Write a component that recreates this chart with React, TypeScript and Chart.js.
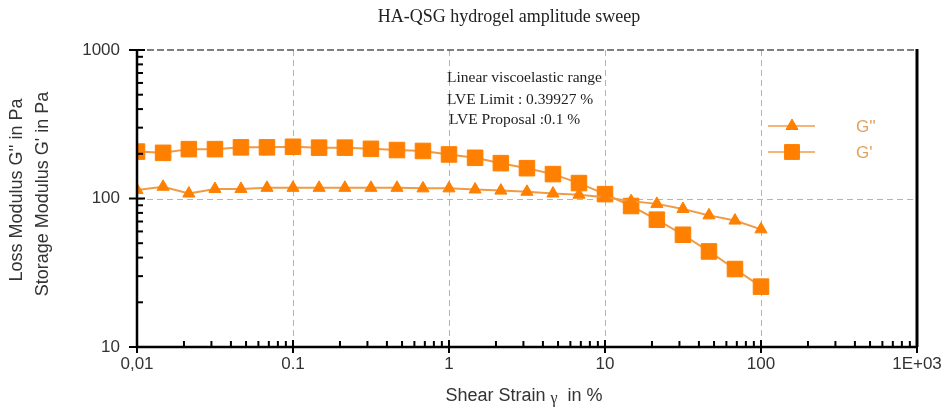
import React, { useEffect, useRef } from 'react';
import { Chart, registerables } from 'chart.js';

Chart.register(...registerables);

const strain = [0.01, 0.0147, 0.0215, 0.0316, 0.0464, 0.0681, 0.1, 0.147, 0.215, 0.316, 0.464, 0.681, 1, 1.47, 2.15, 3.16, 4.64, 6.81, 10, 14.7, 21.5, 31.6, 46.4, 68.1, 100];
const storageModulus = [207, 203, 215, 215, 221, 221, 223, 220, 220, 216, 212, 209, 198, 188, 173, 160, 146, 127, 107, 89, 72, 57, 44, 33.5, 25.5];
const lossModulus = [114, 120, 108, 116, 116, 118, 118, 118, 118, 118, 118, 117, 117, 115, 113, 111, 108, 106, 102, 96, 92, 85, 77, 71, 62];

const xTickValues = [0.01, 0.1, 1, 10, 100, 1000];
const xTickLabels = ['0,01', '0.1', '1', '10', '100', '1E+03'];
const yTickValues = [10, 100, 1000];
const yTickLabels = ['10', '100', '1000'];

const titleText = 'HA-QSG hydrogel amplitude sweep';
const annotationLines = ['Linear viscoelastic range', 'LVE Limit : 0.39927 %', 'LVE Proposal :0.1 %'];
const legendLabels = ["G''", "G'"];
const xTitleParts = ['Shear Strain ', '\u03b3', '  in %'];
const yTitles = ["Loss Modulus G'' in Pa", "Storage Modulus G' in Pa"];

const MARKER = '#ff8000';
const LINE = '#f09a45';
const SANS = '"Liberation Sans", Arial, sans-serif';
const SERIF = '"Liberation Serif", "Times New Roman", serif';

function drawMarker(ctx: CanvasRenderingContext2D, style: string, r: number, x: number, y: number) {
  ctx.beginPath();
  if (style === 'rect') {
    const s = Math.SQRT1_2 * r;
    ctx.rect(x - s, y - s, 2 * s, 2 * s);
  } else {
    let rad = 0;
    ctx.moveTo(x + Math.sin(rad) * r, y - Math.cos(rad) * r);
    rad += (2 * Math.PI) / 3;
    ctx.lineTo(x + Math.sin(rad) * r, y - Math.cos(rad) * r);
    rad += (2 * Math.PI) / 3;
    ctx.lineTo(x + Math.sin(rad) * r, y - Math.cos(rad) * r);
    ctx.closePath();
  }
  ctx.fill();
  ctx.stroke();
}

const decorPlugin = {
  id: 'decor',
  beforeDatasetsDraw(chart: any) {
    const ctx = chart.ctx;
    const xs = chart.scales.x;
    const ys = chart.scales.y;
    const { left, right, top, bottom } = chart.chartArea;
    ctx.save();
    ctx.strokeStyle = '#b5b5b5';
    ctx.lineWidth = 1;
    ctx.setLineDash([6, 4]);
    for (const v of xTickValues.slice(1, -1)) {
      const px = Math.round(xs.getPixelForValue(v)) + 0.5;
      ctx.beginPath();
      ctx.moveTo(px, top);
      ctx.lineTo(px, bottom);
      ctx.stroke();
    }
    for (const v of yTickValues.slice(1, -1)) {
      const py = Math.round(ys.getPixelForValue(v)) + 0.5;
      ctx.beginPath();
      ctx.moveTo(left, py);
      ctx.lineTo(right, py);
      ctx.stroke();
    }
    ctx.strokeStyle = '#555';
    ctx.lineWidth = 1.5;
    ctx.setLineDash([7, 3]);
    ctx.beginPath();
    ctx.moveTo(left, top);
    ctx.lineTo(right, top);
    ctx.stroke();
    ctx.restore();
  },
  afterDraw(chart: any) {
    const ctx = chart.ctx;
    const xs = chart.scales.x;
    const ys = chart.scales.y;
    const { left, right, top, bottom } = chart.chartArea;
    ctx.save();
    ctx.setLineDash([]);
    ctx.strokeStyle = '#000';
    ctx.lineWidth = 2.5;
    ctx.beginPath();
    ctx.moveTo(left, top);
    ctx.lineTo(left, bottom);
    ctx.lineTo(right, bottom);
    ctx.stroke();
    ctx.lineWidth = 3;
    ctx.beginPath();
    ctx.moveTo(right, top - 1);
    ctx.lineTo(right, bottom);
    ctx.stroke();
    ctx.lineWidth = 2;
    for (let i = 0; i < yTickValues.length; i++) {
      const d = yTickValues[i];
      const py = ys.getPixelForValue(d);
      ctx.beginPath();
      ctx.moveTo(left - 8, py);
      ctx.lineTo(left + 8, py);
      ctx.stroke();
      if (i < yTickValues.length - 1) {
        for (let m = 2; m <= 9; m++) {
          const pm = ys.getPixelForValue(d * m);
          ctx.beginPath();
          ctx.moveTo(left, pm);
          ctx.lineTo(left + 6, pm);
          ctx.stroke();
        }
      }
    }
    for (let i = 0; i < xTickValues.length; i++) {
      const d = xTickValues[i];
      const px = xs.getPixelForValue(d);
      ctx.beginPath();
      ctx.moveTo(px, bottom + 6);
      ctx.lineTo(px, bottom - 7);
      ctx.stroke();
      if (i < xTickValues.length - 1) {
        for (let m = 2; m <= 9; m++) {
          const pm = xs.getPixelForValue(d * m);
          ctx.beginPath();
          ctx.moveTo(pm, bottom);
          ctx.lineTo(pm, bottom - 6);
          ctx.stroke();
        }
      }
    }
    // title
    ctx.fillStyle = '#222';
    ctx.font = `18px ${SERIF}`;
    ctx.textAlign = 'center';
    ctx.textBaseline = 'middle';
    ctx.fillText(titleText, 509, 17);
    // annotation
    ctx.font = `15.5px ${SERIF}`;
    ctx.textAlign = 'left';
    ctx.fillText(annotationLines[0], 447, 78);
    ctx.fillText(annotationLines[1], 447, 100);
    ctx.fillText(annotationLines[2], 449, 120);
    // x title, with a serif gamma
    ctx.fillStyle = '#333';
    const sansFont = `18px ${SANS}`;
    const gFont = `16px ${SERIF}`;
    ctx.font = sansFont;
    const w0 = ctx.measureText(xTitleParts[0]).width;
    const w2 = ctx.measureText(xTitleParts[2]).width;
    ctx.font = gFont;
    const w1 = ctx.measureText(xTitleParts[1]).width;
    let tx = 524 - (w0 + w1 + w2) / 2;
    ctx.textAlign = 'left';
    ctx.font = sansFont;
    ctx.fillText(xTitleParts[0], tx, 396);
    tx += w0;
    ctx.font = gFont;
    ctx.fillText(xTitleParts[1], tx, 399);
    tx += w1;
    ctx.font = sansFont;
    ctx.fillText(xTitleParts[2], tx, 396);
    // y titles
    ctx.textAlign = 'center';
    ctx.font = `18px ${SANS}`;
    ctx.save();
    ctx.translate(17, 190);
    ctx.rotate(-Math.PI / 2);
    ctx.fillText(yTitles[0], 0, 0);
    ctx.restore();
    ctx.save();
    ctx.translate(43, 194);
    ctx.rotate(-Math.PI / 2);
    ctx.fillText(yTitles[1], 0, 0);
    ctx.restore();
    // legend
    const legendYs = [126, 152];
    const styles = ['triangle', 'rect'];
    const radii = [7, 10.5];
    for (let i = 0; i < 2; i++) {
      const ly = legendYs[i];
      ctx.strokeStyle = '#f5b47a';
      ctx.lineWidth = 2;
      ctx.beginPath();
      ctx.moveTo(768, ly);
      ctx.lineTo(815, ly);
      ctx.stroke();
      ctx.fillStyle = MARKER;
      ctx.strokeStyle = MARKER;
      ctx.lineWidth = 1;
      drawMarker(ctx, styles[i], radii[i], 792, ly);
      ctx.fillStyle = '#e0a060';
      ctx.font = `17px ${SANS}`;
      ctx.textAlign = 'left';
      ctx.fillText(legendLabels[i], 856, ly + 1);
    }
    ctx.restore();
  },
};

export default function App() {
  const ref = useRef<HTMLCanvasElement>(null);
  useEffect(() => {
    if (!ref.current) return;
    const chart = new Chart(ref.current, {
      type: 'line',
      data: {
        datasets: [
          {
            label: legendLabels[0],
            data: strain.map((x, i) => ({ x, y: lossModulus[i] })),
            borderColor: LINE,
            borderWidth: 2,
            pointStyle: 'triangle',
            pointRadius: 7,
            pointBackgroundColor: MARKER,
            pointBorderColor: MARKER,
            pointBorderWidth: 1,
            tension: 0,
          },
          {
            label: legendLabels[1],
            data: strain.map((x, i) => ({ x, y: storageModulus[i] })),
            borderColor: LINE,
            borderWidth: 2,
            pointStyle: 'rect',
            pointRadius: 11,
            pointBackgroundColor: MARKER,
            pointBorderColor: MARKER,
            pointBorderWidth: 1,
            tension: 0,
          },
        ],
      },
      options: {
        animation: false,
        responsive: false,
        layout: { padding: { top: 50, right: 33, left: 0, bottom: 0 } },
        plugins: {
          legend: { display: false },
          title: { display: false },
          tooltip: { enabled: false },
        },
        scales: {
          x: {
            type: 'logarithmic',
            min: 0.01,
            max: 1000,
            afterBuildTicks: (s: any) => {
              s.ticks = xTickValues.map((v) => ({ value: v }));
            },
            afterFit: (s: any) => {
              s.height = 64;
            },
            grid: { display: false, drawTicks: false },
            border: { display: false },
            ticks: {
              autoSkip: false,
              maxRotation: 0,
              padding: 7,
              color: '#333',
              font: { family: SANS, size: 17 },
              callback: (_v: any, i: number) => xTickLabels[i],
            },
          },
          y: {
            type: 'logarithmic',
            min: 10,
            max: 1000,
            afterBuildTicks: (s: any) => {
              s.ticks = yTickValues.map((v) => ({ value: v }));
            },
            afterFit: (s: any) => {
              s.width = 137;
            },
            grid: { display: false, drawTicks: false },
            border: { display: false },
            ticks: {
              autoSkip: false,
              padding: 17,
              color: '#333',
              font: { family: SANS, size: 17 },
              callback: (_v: any, i: number) => yTickLabels[i],
            },
          },
        },
      },
      plugins: [decorPlugin],
    } as any);
    return () => chart.destroy();
  }, []);
  return (
    <div style={{ position: 'absolute', left: 0, top: 0, width: 950, height: 411, background: '#fff' }}>
      <canvas ref={ref} width={950} height={411} style={{ display: 'block' }} />
    </div>
  );
}
